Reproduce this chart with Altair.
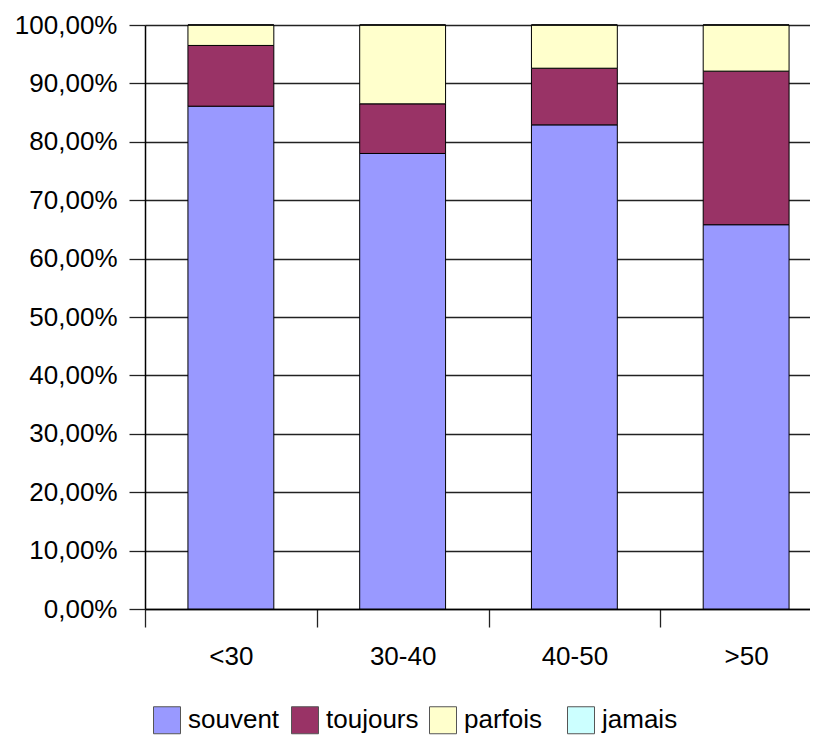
import altair as alt
import pandas as pd

groups = ["<30", "30-40", "40-50", ">50"]
series = ["souvent", "toujours", "parfois", "jamais"]
colors = ["#9999FF", "#993366", "#FFFFCC", "#CCFFFF"]
souvent = [0.861, 0.780, 0.829, 0.658]
toujours = [0.104, 0.085, 0.097, 0.263]
parfois = [0.035, 0.135, 0.074, 0.079]
jamais = [0.0, 0.0, 0.0, 0.0]
y_ticks = [0, 0.1, 0.2, 0.3, 0.4, 0.5, 0.6, 0.7, 0.8, 0.9, 1.0]

rows = []
for s_i, (name, vals) in enumerate(zip(series, [souvent, toujours, parfois, jamais])):
    for g, v in zip(groups, vals):
        rows.append({"age": g, "serie": name, "valeur": v, "ordre": s_i})
df = pd.DataFrame(rows)

FONT = "Liberation Sans"

chart = alt.Chart(df).mark_bar(
    stroke="black", strokeWidth=1, width=alt.RelativeBandSize(0.5)
).encode(
    x=alt.X("age:N", sort=groups,
            scale=alt.Scale(range=[0, 687], paddingInner=0, paddingOuter=0, round=False),
            axis=alt.Axis(title=None, labelAngle=0, labelFont=FONT, labelFontSize=26,
                          labelColor="black", labelPadding=16, tickBand="extent",
                          tickSize=18, tickColor="#222", tickWidth=1.3,
                          domainColor="black", domainWidth=1.5, grid=False)),
    y=alt.Y("valeur:Q", stack="zero",
            scale=alt.Scale(domain=[0, 1], nice=False),
            axis=alt.Axis(title=None, values=y_ticks,
                          labelExpr="replace(format(datum.value, '.2%'), '.', ',')",
                          labelFont=FONT, labelFontSize=26, labelColor="black",
                          labelPadding=12, tickSize=16, tickColor="#222", tickWidth=1.3,
                          domainColor="black", domainWidth=1.5,
                          grid=True, gridColor="#222", gridWidth=1.3)),
    color=alt.Color("serie:N",
                    scale=alt.Scale(domain=series, range=colors),
                    legend=alt.Legend(title=None, orient="none", legendX=8, legendY=681,
                                      direction="horizontal", columns=4, gridAlign="all",
                                      columnPadding=8, padding=0,
                                      symbolType="square", symbolSize=729,
                                      symbolStrokeColor="#555", symbolStrokeWidth=1,
                                      labelFont=FONT, labelFontSize=26, labelColor="black",
                                      labelOffset=7)),
    order=alt.Order("ordre:Q", sort="ascending"),
).properties(
    width=665,
    height=584,
    autosize=alt.AutoSizeParams(type="none"),
    padding={"left": 137, "top": 17, "right": 0, "bottom": 127},
).configure_view(stroke=None)

chart.save("out.html", embed_options={"renderer": "svg", "actions": False})
